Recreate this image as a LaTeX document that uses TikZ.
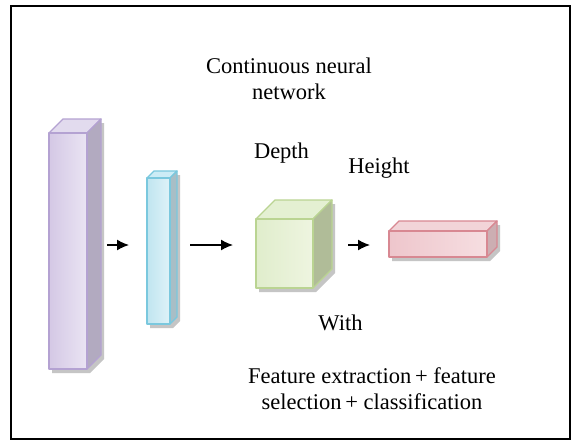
\documentclass[tikz,border=0pt]{standalone}
\usepackage{fontspec}
\setmainfont{Liberation Serif}
\usetikzlibrary{arrows.meta}

% face colours: L/R front gradient, T top, S side, E edge
\definecolor{lavL}{RGB}{212,200,229}
\definecolor{lavR}{RGB}{234,228,243}
\definecolor{lavT}{RGB}{226,219,238}
\definecolor{lavS}{RGB}{178,170,192}
\definecolor{lavE}{RGB}{180,162,210}
\definecolor{cyaL}{RGB}{192,229,240}
\definecolor{cyaR}{RGB}{222,242,248}
\definecolor{cyaT}{RGB}{204,236,246}
\definecolor{cyaS}{RGB}{168,190,198}
\definecolor{cyaE}{RGB}{122,200,222}
\definecolor{grnL}{RGB}{224,237,204}
\definecolor{grnR}{RGB}{238,245,224}
\definecolor{grnT}{RGB}{228,240,210}
\definecolor{grnS}{RGB}{176,188,152}
\definecolor{grnE}{RGB}{186,212,146}
\definecolor{redL}{RGB}{238,198,204}
\definecolor{redR}{RGB}{246,222,225}
\definecolor{redT}{RGB}{242,212,216}
\definecolor{redS}{RGB}{204,174,178}
\definecolor{redE}{RGB}{216,136,146}

\tikzset{
  faceref/.style={rectangle, inner sep=0pt, outer sep=0pt, draw=none},
  edge/.style={line width=1.3pt, line join=round},
  dropshadow/.style={fill=black!45, opacity=0.5},
  arr/.style={-{Latex[length=12pt,width=11pt]}, line width=1.4pt},
  label/.style={font=\fontsize{22.5}{26}\selectfont, align=center, inner sep=0pt}
}

% #1 name, #2/#3 centre of the front face, #4 width, #5 height, #6 depth, #7 colour stem
\newcommand{\prism}[7]{%
  \node[faceref, minimum width=#4pt, minimum height=#5pt] (#1) at (#2,#3) {};
  \fill[dropshadow] ([shift={(3,4)}]#1.north west) -- ++(#6,-#6)
    -- ([shift={(3+#6,4-#6)}]#1.north east) -- ([shift={(3+#6,4-#6)}]#1.south east)
    -- ([shift={(3,4)}]#1.south east) -- ([shift={(3,4)}]#1.south west) -- cycle;
  \path[edge, draw=#7E, fill=#7T] (#1.north west) -- ++(#6,-#6)
    -- ([shift={(#6,-#6)}]#1.north east) -- (#1.north east) -- cycle;
  \path[edge, draw=#7E, fill=#7S] (#1.north east) -- ++(#6,-#6)
    -- ([shift={(#6,-#6)}]#1.south east) -- (#1.south east) -- cycle;
  \path[edge, draw=#7E, left color=#7L, right color=#7R]
    (#1.north west) rectangle (#1.south east);
}

\begin{document}
\begin{tikzpicture}[x=1pt, y=-1pt]
  \useasboundingbox (0,0) rectangle (573,440);
  \fill[white] (0,0) rectangle (573,440);
  \draw[line width=1.4pt] (11,6) rectangle (570,439);

  \prism{f1}{68}{251}{38}{236}{14}{lav}
  \prism{f2}{158.5}{251}{23}{146}{7}{cya}
  \prism{f3}{284.5}{253.5}{57}{69}{19}{grn}
  \prism{f4}{438}{244}{98}{26}{10}{red}

  \draw[arr] ([shift={(20,-6)}]f1.east) -- ([shift={(-18,-6)}]f2.west);
  \draw[arr] ([shift={(20,-6)}]f2.east) -- ([shift={(-23,-8.5)}]f3.west);
  \draw[arr] ([shift={(35,-8.5)}]f3.east) -- ([shift={(-19,1)}]f4.west);

  \node[label] (title) at (289,79) {Continuous neural\\network};
  \node[label] (depth) at (281.5,153) {Depth};
  \node[label] (height) at (379,168) {Height};
  \node[label] (with) at (340.5,323) {With};
  \node[label] (tasks) at (372,389) {Feature extraction\,+ feature\\selection\,+ classification};
\end{tikzpicture}
\end{document}
